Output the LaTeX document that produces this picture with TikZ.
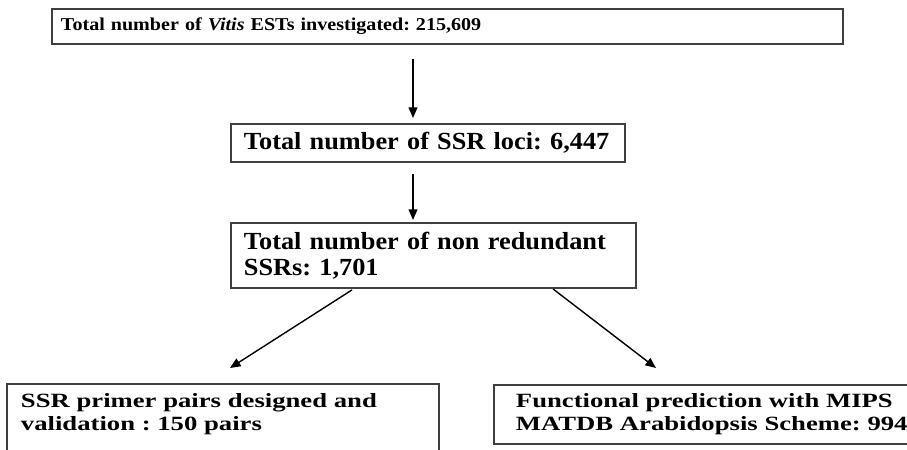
\documentclass[tikz,border=0pt]{standalone}
\usepackage{fontspec}
\setmainfont{Liberation Serif}
\newfontfamily\wideA[FakeStretch=1.11]{Liberation Serif}
\newfontfamily\wideB[FakeStretch=1.07]{Liberation Serif}
\newfontfamily\wideC[FakeStretch=1.32]{Liberation Serif}
\usetikzlibrary{calc,arrows.meta}

\begin{document}
\frenchspacing
\begin{tikzpicture}[x=0.02cm,y=-0.02cm,
  box/.style={draw=black!75,line width=1.1pt,anchor=north west,inner ysep=0pt,align=left},
  arr/.style={-{Triangle[length=6pt,width=5pt]},line width=0.8pt}]
\clip (0,0) rectangle (907,450);
% boxes
\node[box,minimum width=15.82cm,minimum height=0.70cm,inner xsep=0.18cm,text width=15.46cm,
  font=\wideA\fontsize{10.3}{12}\selectfont\bfseries] (b1) at (51,8)
  {Total number of \textit{Vitis} ESTs investigated: 215,609};
\node[box,minimum width=7.88cm,minimum height=0.76cm,inner xsep=0.26cm,text width=7.36cm,
  font=\wideB\fontsize{14}{16}\selectfont\bfseries] (b2) at (230,123)
  {Total number of SSR loci: 6,447};
\node[box,minimum width=8.10cm,minimum height=1.30cm,inner xsep=0.26cm,text width=7.58cm,
  font=\wideB\fontsize{14}{14.7}\selectfont\bfseries] (b3) at (230,222)
  {Total number of non redundant\\SSRs: 1,701};
\node[box,draw=none,minimum width=8.60cm,minimum height=1.18cm,inner xsep=0.26cm,text width=8.08cm,
  font=\wideC\fontsize{11.5}{13}\selectfont\bfseries] (b4) at (7,384)
  {SSR primer pairs designed and\\validation : 150 pairs};
\draw[draw=black!75,line width=1.1pt] ($(b4.south west)+(0,20)$) |- (b4.north east) -- ($(b4.south east)+(0,20)$);
\node[box,minimum width=9.20cm,minimum height=1.18cm,inner xsep=0.44cm,text width=8.32cm,
  font=\wideC\fontsize{11.5}{13}\selectfont\bfseries] (b5) at (493,384)
  {Functional prediction with MIPS\\MATDB Arabidopsis Scheme: 994};
% arrows
\draw[arr] ($(b1.south west)+(362,14)$) -- ($(b2.north west)+(183,-5)$);
\draw[arr] ($(b2.south west)+(183,11)$) -- ($(b3.north west)+(183,-2)$);
\draw[arr] ($(b3.south west)+(122,1)$) -- ($(b4.north west)+(223,-16)$);
\draw[arr] ($(b3.south west)+(323,0)$) -- ($(b5.north west)+(163,-16)$);
\end{tikzpicture}
\end{document}
